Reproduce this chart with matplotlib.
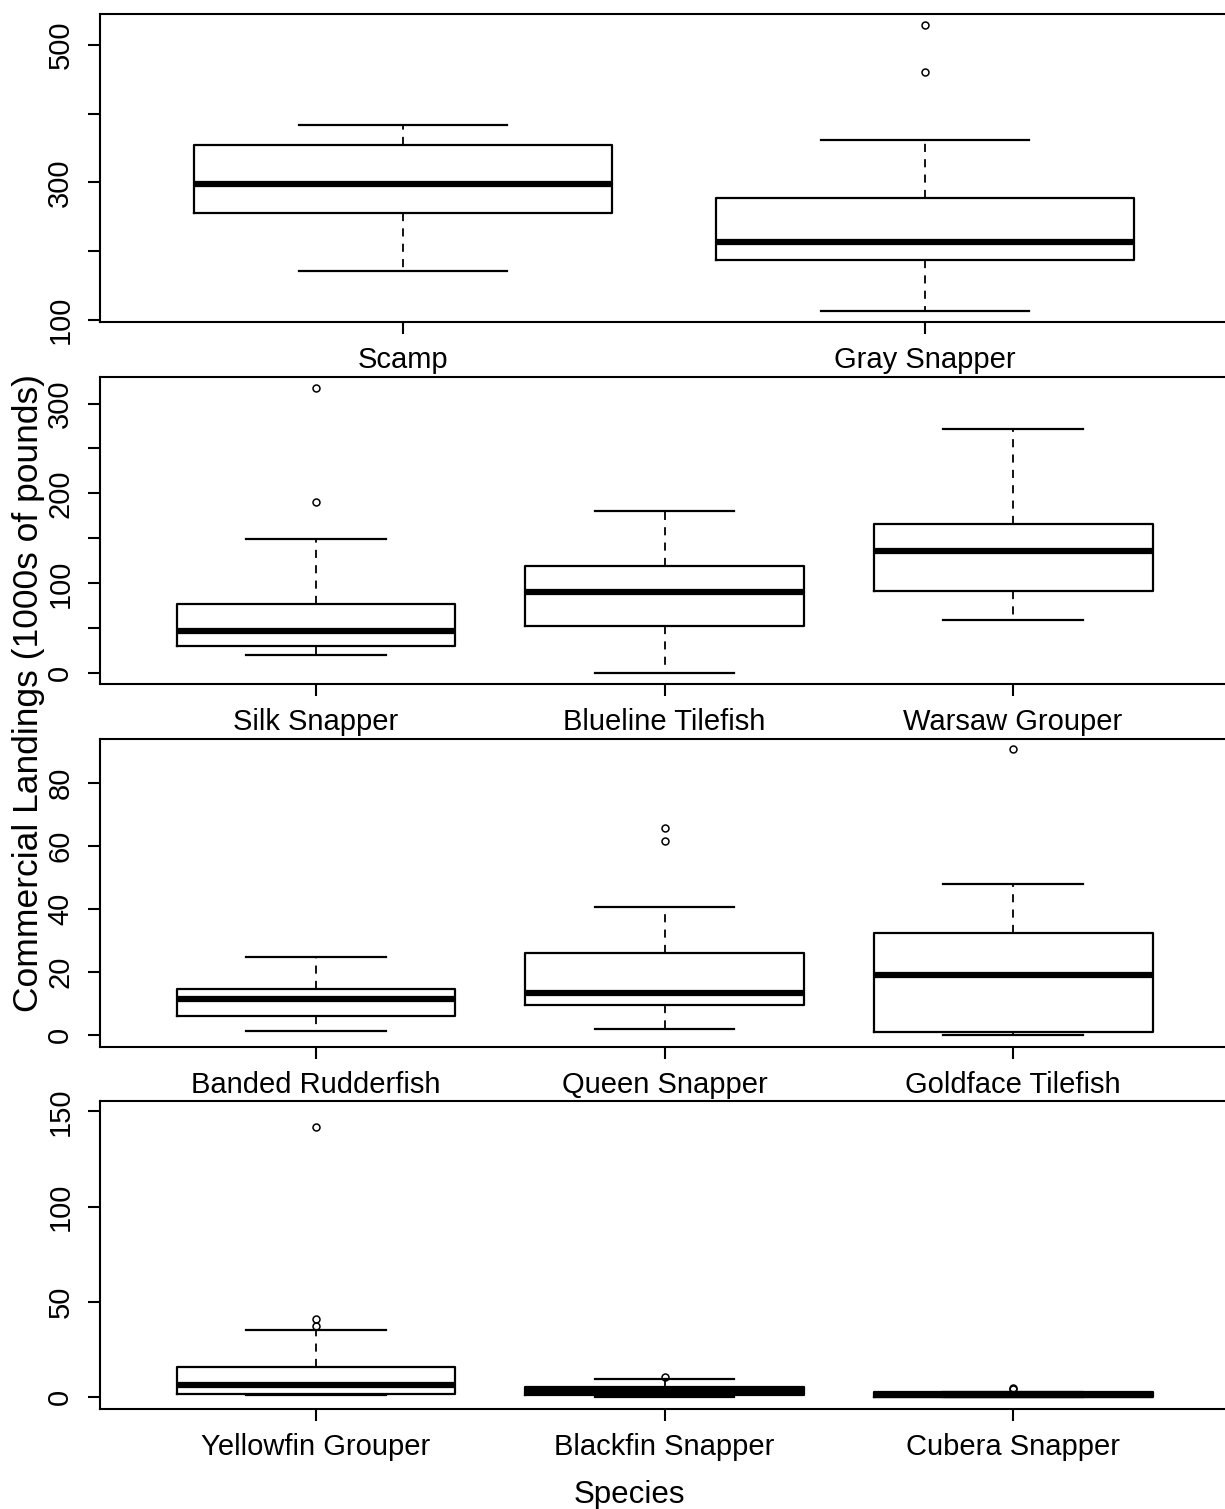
import matplotlib
matplotlib.use('Agg')
import matplotlib.pyplot as plt

plt.rcParams['font.family'] = ['Liberation Sans', 'DejaVu Sans']

# ── data (1000s of pounds) ───────────────────────────────────────────────────
p1_species = ['Scamp', 'Gray Snapper']
p1_lo   = [172, 114]
p1_q1   = [256, 187]
p1_med  = [298, 213]
p1_q3   = [354, 277]
p1_hi   = [383, 362]
p1_out  = [[], [528, 460]]

p2_species = ['Silk Snapper', 'Blueline Tilefish', 'Warsaw Grouper']
p2_lo   = [20.4, 0.3, 59]
p2_q1   = [30.6, 52.6, 91.6]
p2_med  = [46.6, 90.5, 136]
p2_q3   = [77.5, 119.4, 166]
p2_hi   = [149.4, 180.6, 272]
p2_out  = [[317, 190.6], [], []]

p3_species = ['Banded Rudderfish', 'Queen Snapper', 'Goldface Tilefish']
p3_lo   = [1.3, 2.1, 0.0]
p3_q1   = [6.2, 9.5, 1.0]
p3_med  = [11.4, 13.5, 19.1]
p3_q3   = [14.8, 26.2, 32.3]
p3_hi   = [24.8, 40.6, 47.9]
p3_out  = [[], [65.6, 61.5], [90.7]]

p4_species = ['Yellowfin Grouper', 'Blackfin Snapper', 'Cubera Snapper']
p4_lo   = [0.9, 0.0, 0.0]
p4_q1   = [1.6, 1.1, 0.2]
p4_med  = [6.5, 3.2, 1.3]
p4_q3   = [15.8, 5.3, 2.6]
p4_hi   = [35.2, 9.7, 2.8]
p4_out  = [[142, 40.8, 37.3], [10.5], [4.7, 4.0]]

panels = [
    (p1_species, p1_lo, p1_q1, p1_med, p1_q3, p1_hi, p1_out),
    (p2_species, p2_lo, p2_q1, p2_med, p2_q3, p2_hi, p2_out),
    (p3_species, p3_lo, p3_q1, p3_med, p3_q3, p3_hi, p3_out),
    (p4_species, p4_lo, p4_q1, p4_med, p4_q3, p4_hi, p4_out),
]

# layout (pixels of the 1225x1509 reference)
W, H = 1225, 1509
rows_px = [(14, 322), (377, 684), (739, 1047), (1101, 1409)]
ylims   = [(97.5, 544.5), (-12, 329.5), (-3.7, 93.8), (-6.3, 155.5)]
xlims   = [(0.4195, 2.5747), (0.380, 3.608), (0.380, 3.608), (0.380, 3.608)]
yticks  = [[100, 200, 300, 400, 500], list(range(0, 301, 50)),
           [0, 20, 40, 60, 80], [0, 50, 100, 150]]
ylabels = [['100', '', '300', '', '500'],
           ['0', '', '100', '', '200', '', '300'],
           ['0', '20', '40', '60', '80'],
           ['0', '50', '100', '150']]

FS = 21
fig = plt.figure(figsize=(W / 100, H / 100), dpi=100)

for i, (species, lo, q1, med, q3, hi, out) in enumerate(panels):
    top, bot = rows_px[i]
    ax = fig.add_axes([100 / W, 1 - bot / H, (W - 100) / W, (bot - top) / H])
    stats = [dict(whislo=lo[k], q1=q1[k], med=med[k], q3=q3[k], whishi=hi[k],
                  fliers=out[k], label=species[k]) for k in range(len(species))]
    ax.bxp(stats, positions=range(1, len(species) + 1), widths=0.8,
           showfliers=True, manage_ticks=False,
           boxprops=dict(color='black', lw=1.6),
           medianprops=dict(color='black', lw=4.5, solid_capstyle='butt'),
           whiskerprops=dict(color='black', lw=1.3, linestyle=(0, (4.5, 4))),
           capprops=dict(color='black', lw=1.6),
           flierprops=dict(marker='o', markersize=5, markerfacecolor='none',
                           markeredgecolor='black', markeredgewidth=1.1))
    ax.set_xlim(*xlims[i])
    ax.set_ylim(*ylims[i])
    ax.set_xticks(range(1, len(species) + 1))
    ax.set_xticklabels(species, fontsize=FS)
    ax.set_yticks(yticks[i])
    ax.set_yticklabels(ylabels[i], fontsize=FS, rotation=90, va='center')
    ax.tick_params(axis='both', length=8.5, width=1.5, color='black')
    ax.tick_params(axis='x', pad=9)
    ax.tick_params(axis='y', pad=10)
    for s in ('left', 'bottom', 'top'):
        ax.spines[s].set_linewidth(1.5)
    ax.spines['right'].set_visible(False)

fig.text(29 / W, 1 - 693 / H, 'Commercial Landings (1000s of pounds)',
         rotation=90, ha='center', va='center', fontsize=25.5)
fig.text(629 / W, 1 - 1503 / H, 'Species', ha='center', va='baseline',
         fontsize=22.5)

fig.savefig('out.png', dpi=100, facecolor='white')
